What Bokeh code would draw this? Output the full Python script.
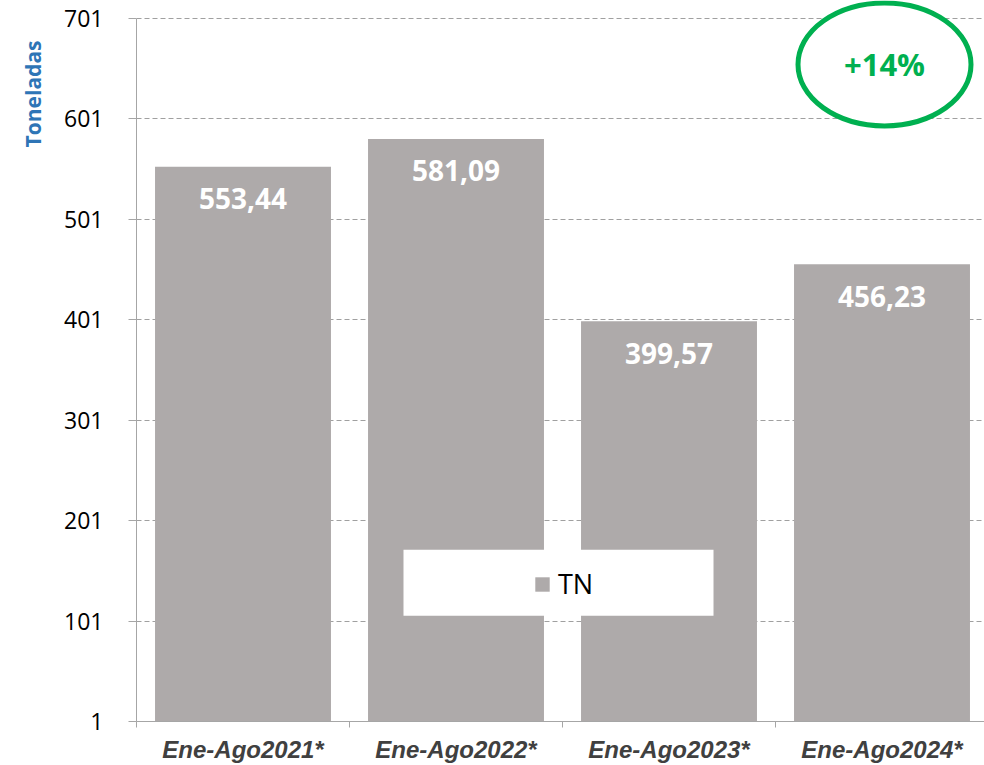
from bokeh.plotting import figure
from bokeh.models import Range1d, FixedTicker, BoxAnnotation, Legend, LegendItem, ColumnDataSource, Title
from bokeh.core.properties import value
from bokeh.embed import file_html
from bokeh.resources import INLINE

# ---- data ----
categories = ["Ene-Ago2021*", "Ene-Ago2022*", "Ene-Ago2023*", "Ene-Ago2024*"]
values = [553.44, 581.09, 399.57, 456.23]
value_labels = ["553,44", "581,09", "399,57", "456,23"]
y_ticks = [1, 101, 201, 301, 401, 501, 601, 701]
series_name = "TN"
axis_title = "Toneladas"
change_label = "+14%"

# ---- styling constants ----
BAR_COLOR = "#AEAAAA"
GREEN = "#00B050"
AXIS_COLOR = "#A6A6A6"
GRID_COLOR = "#A0A0A0"
PX_PER_UNIT = 704 / 700.0
BAND_PX = 213.0
FRAME_LEFT, FRAME_TOP, FRAME_BOTTOM = 136, 0, 722
TOP_TICK_PX = 18

xs = [i + 1 for i in range(len(categories))]
y_min, y_max = y_ticks[0], y_ticks[-1]


def ypx(px):
    return y_max - (px - TOP_TICK_PX) / PX_PER_UNIT


def xpx(px):
    return 0.5 + (px - FRAME_LEFT) / BAND_PX


p = figure(width=984, height=765,
           x_range=Range1d(0.5, xpx(984)),
           y_range=Range1d(y_min, ypx(FRAME_TOP)),
           output_backend="svg", toolbar_location=None,
           min_border_left=FRAME_LEFT, min_border_right=0, min_border_top=FRAME_TOP,
           min_border_bottom=765 - FRAME_BOTTOM)
p.outline_line_color = None
p.background_fill_color = "white"

src = ColumnDataSource(dict(x=xs, top=values, lab=value_labels,
                            ly=[v - 32 / PX_PER_UNIT for v in values]))
bars = p.vbar(x="x", top="top", bottom=y_min, width=0.826, source=src,
              fill_color=BAR_COLOR, line_color=None)

p.text(x="x", y="ly", text="lab", source=src, text_color="white",
       text_font=value("Open Sans"), text_font_style="bold",
       text_font_size="28px", text_align="center", text_baseline="middle")

# axes
p.xaxis.ticker = FixedTicker(ticks=xs, minor_ticks=[x - 0.5 for x in xs] + [xs[-1] + 0.5])
p.xaxis.major_label_overrides = {float(x): c for x, c in zip(xs, categories)}
p.xaxis.major_tick_out = 0
p.xaxis.major_tick_in = 0
p.xaxis.minor_tick_out = 6
p.xaxis.minor_tick_in = 0
p.xaxis.minor_tick_line_color = AXIS_COLOR
p.xaxis.axis_line_color = AXIS_COLOR
p.xaxis.major_label_text_font = "Liberation Sans"
p.xaxis.major_label_text_font_style = "bold italic"
p.xaxis.major_label_text_font_size = "24px"
p.xaxis.major_label_text_color = "#404040"
p.xaxis.major_label_standoff = 8

p.yaxis.ticker = FixedTicker(ticks=y_ticks)
p.yaxis.bounds = (y_min, y_max)
p.yaxis.major_tick_out = 8
p.yaxis.major_tick_in = 0
p.yaxis.minor_tick_out = 0
p.yaxis.minor_tick_in = 0
p.yaxis.major_tick_line_color = AXIS_COLOR
p.yaxis.axis_line_color = AXIS_COLOR
p.yaxis.major_label_text_font = "Open Sans"
p.yaxis.major_label_text_font_size = "23px"
p.yaxis.major_label_text_color = "black"
p.yaxis.major_label_standoff = 25

p.xgrid.visible = False
p.ygrid.ticker = FixedTicker(ticks=y_ticks)
p.ygrid.grid_line_color = GRID_COLOR
p.ygrid.grid_line_dash = "5 3"
p.ygrid.grid_line_width = 1

# y axis title (as side title, top-aligned)
p.add_layout(Title(text=axis_title, align="right", offset=40, standoff=30,
                   text_color="#2E75B6", text_font="Open Sans",
                   text_font_style="bold", text_font_size="21px"), "left")

# legend box + legend
box = BoxAnnotation(left=xpx(403), right=xpx(713), bottom=ypx(616), top=ypx(550),
                    fill_color="white", fill_alpha=1.0, line_color=None)
p.add_layout(box)
legend = Legend(items=[LegendItem(label=series_name, renderers=[bars])],
                location=(533 - FRAME_LEFT, FRAME_BOTTOM - 603), padding=0, margin=0, spacing=0,
                glyph_width=18, glyph_height=18, label_height=32, label_standoff=7,
                label_text_font="Open Sans", label_text_font_size="27px",
                label_text_color="black", background_fill_alpha=0,
                border_line_alpha=0)
p.add_layout(legend)

# highlight ellipse with change
ex = xpx(884)
p.ellipse(x=[ex], y=[ypx(64)], width=173, height=123,
          width_units="screen", height_units="screen",
          fill_color="white", line_color=GREEN, line_width=5)
p.text(x=[ex], y=[ypx(64)], text=[change_label],
       text_color=GREEN, text_font=value("Open Sans"), text_font_style="bold",
       text_font_size="31px", text_align="center", text_baseline="middle")

open("out.html", "w").write(file_html(p, INLINE))
